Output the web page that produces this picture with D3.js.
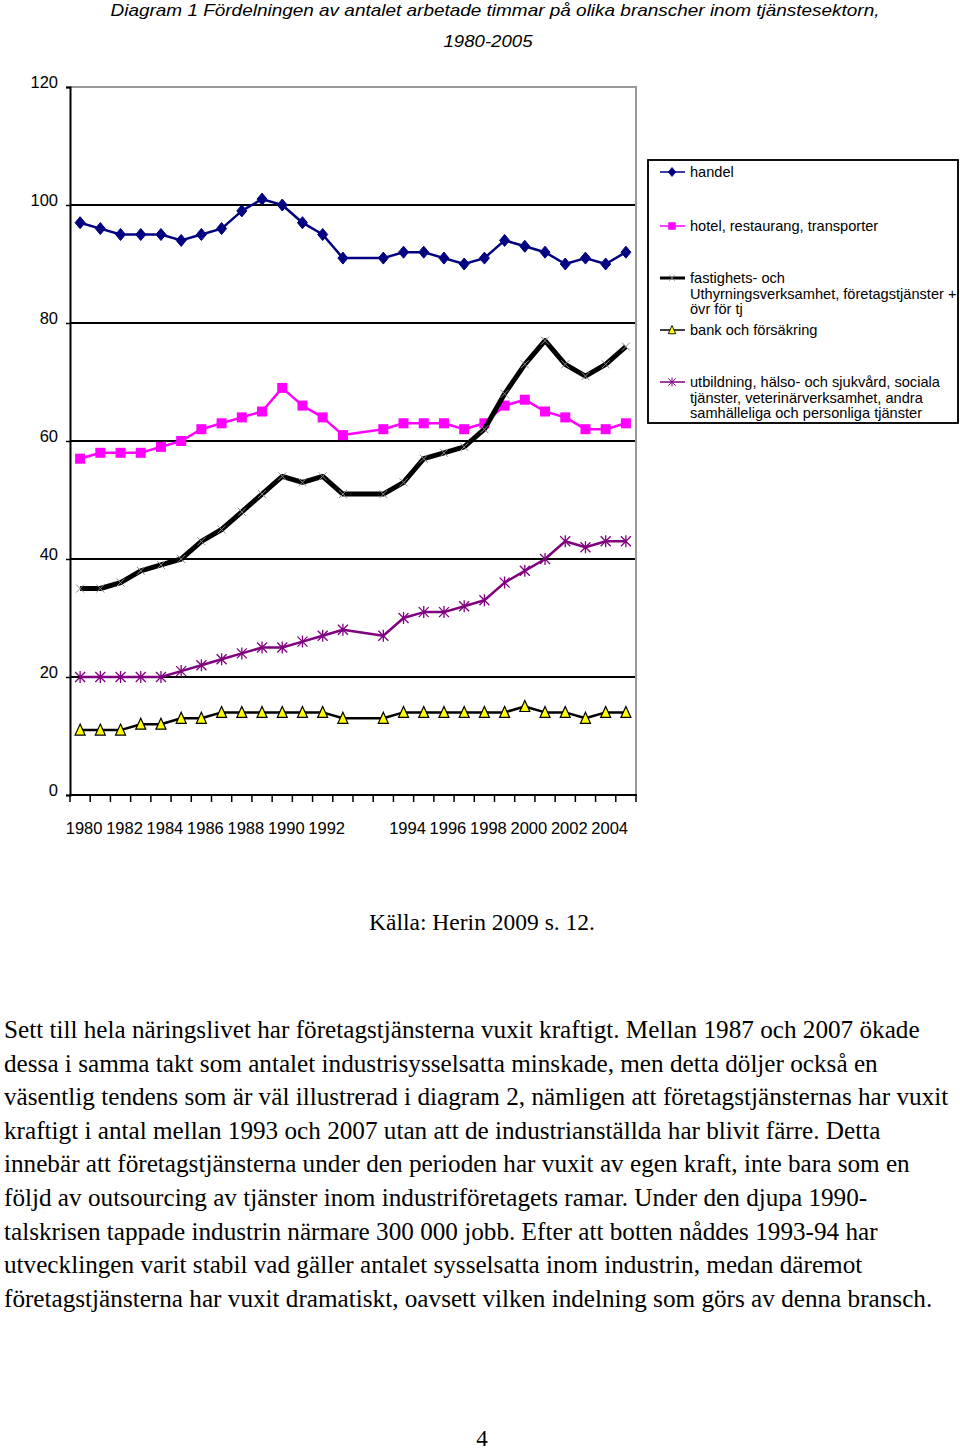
<!DOCTYPE html>
<html>
<head>
<meta charset="utf-8">
<script src="https://cdn.jsdelivr.net/npm/d3@7"></script>
<style>
  body { margin: 0; background: #fff; }
  svg { display: block; }
</style>
</head>
<body>
<svg id="page" width="960" height="1450"></svg>
<script>
// categories: old classification 1980-1993, empty slot, new classification 1993-2005
var categories = ['1980','1981','1982','1983','1984','1985','1986','1987','1988','1989','1990','1991','1992','1993',
                  '',
                  '1993','1994','1995','1996','1997','1998','1999','2000','2001','2002','2003','2004','2005'];
var tickLabels = ['1980','','1982','','1984','','1986','','1988','','1990','','1992','',
                  '',
                  '','1994','','1996','','1998','','2000','','2002','','2004',''];
var yTicks = [0, 20, 40, 60, 80, 100, 120];

var handel     = [97,96,95,95,95,94,95,96,99,101,100,97,95,91, null, 91,92,92,91,90,91,94,93,92,90,91,90,92];
var hotel      = [57,58,58,58,59,60,62,63,64,65,69,66,64,61, null, 62,63,63,63,62,63,66,67,65,64,62,62,63];
var fastighets = [35,35,36,38,39,40,43,45,48,51,54,53,54,51, null, 51,53,57,58,59,62,68,73,77,73,71,73,76];
var bank       = [11,11,11,12,12,13,13,14,14,14,14,14,14,13, null, 13,14,14,14,14,14,14,15,14,14,13,14,14];
var utbildning = [20,20,20,20,20,21,22,23,24,25,25,26,27,28, null, 27,30,31,31,32,33,36,38,40,43,42,43,43];

var seriesNames = [
  ['handel'],
  ['hotel, restaurang, transporter'],
  ['fastighets- och', 'Uthyrningsverksamhet, företagstjänster +', 'övr för tj'],
  ['bank och försäkring'],
  ['utbildning, hälso- och sjukvård, sociala', 'tjänster, veterinärverksamhet, andra', 'samhälleliga och personliga tjänster']
];

var titleLines = ['Diagram 1 Fördelningen av antalet arbetade timmar på olika branscher inom tjänstesektorn,', '1980-2005'];
var sourceText = 'Källa: Herin 2009 s. 12.';
var bodyLines = [
  'Sett till hela näringslivet har företagstjänsterna vuxit kraftigt. Mellan 1987 och 2007 ökade',
  'dessa i samma takt som antalet industrisysselsatta minskade, men detta döljer också en',
  'väsentlig tendens som är väl illustrerad i diagram 2, nämligen att företagstjänsternas har vuxit',
  'kraftigt i antal mellan 1993 och 2007 utan att de industrianställda har blivit färre. Detta',
  'innebär att företagstjänsterna under den perioden har vuxit av egen kraft, inte bara som en',
  'följd av outsourcing av tjänster inom industriföretagets ramar. Under den djupa 1990-',
  'talskrisen tappade industrin närmare 300 000 jobb. Efter att botten nåddes 1993-94 har',
  'utvecklingen varit stabil vad gäller antalet sysselsatta inom industrin, medan däremot',
  'företagstjänsterna har vuxit dramatiskt, oavsett vilken indelning som görs av denna bransch.'
];

var svg = d3.select('#page');
var sans = 'Arial, "Liberation Sans", sans-serif';
var serif = '"Times New Roman", "Liberation Serif", serif';

// title
svg.append('text')
  .attr('x', 495).attr('y', 16)
  .attr('text-anchor', 'middle')
  .attr('textLength', 769).attr('lengthAdjust', 'spacingAndGlyphs')
  .style('font-family', sans).style('font-style', 'italic').style('font-size', '17px')
  .text(titleLines[0]);
svg.append('text')
  .attr('x', 488).attr('y', 47)
  .attr('text-anchor', 'middle')
  .attr('textLength', 89).attr('lengthAdjust', 'spacingAndGlyphs')
  .style('font-family', sans).style('font-style', 'italic').style('font-size', '17px')
  .text(titleLines[1]);

// scales
var x = d3.scaleBand().domain(d3.range(categories.length)).range([70, 636]);
var y = d3.scaleLinear().domain([0, 120]).range([795, 87]);
function cx(i){ return x(i) + x.bandwidth()/2; }

var plot = svg.append('g');

// grid lines
plot.selectAll('.grid')
  .data(yTicks.filter(function(d){ return d > 0 && d < 120; }))
  .enter().append('line')
  .attr('x1', 70).attr('x2', 636)
  .attr('y1', function(d){ return y(d); }).attr('y2', function(d){ return y(d); })
  .style('stroke', '#000').style('stroke-width', 2);

// plot border top/right
plot.append('line').attr('x1', 70).attr('x2', 637).attr('y1', y(120)).attr('y2', y(120))
  .style('stroke', '#999').style('stroke-width', 2);
plot.append('line').attr('x1', 636).attr('x2', 636).attr('y1', y(120)).attr('y2', y(0))
  .style('stroke', '#999').style('stroke-width', 2);

// y axis
var yAxis = d3.axisLeft(y).tickValues(yTicks).tickSize(4).tickPadding(8);
var yg = svg.append('g').attr('transform', 'translate(70,0)').call(yAxis);
yg.select('.domain').style('stroke', '#000').style('stroke-width', 2);
yg.selectAll('.tick line').style('stroke', '#000').style('stroke-width', 1.5);
yg.selectAll('.tick text')
  .attr('dy', '0.05em')
  .style('font-family', sans).style('font-size', '16.5px').style('fill', '#000');

// x axis ticks at category boundaries
var xEdges = d3.range(categories.length + 1).map(function(i){ return 70 + i * x.step(); });
svg.append('line').attr('x1', 70).attr('x2', 637).attr('y1', y(0)).attr('y2', y(0))
  .style('stroke', '#000').style('stroke-width', 2);
svg.selectAll('.xtick').data(xEdges).enter().append('line')
  .attr('x1', function(d){ return d; }).attr('x2', function(d){ return d; })
  .attr('y1', y(0)).attr('y2', y(0) + 7)
  .style('stroke', '#000').style('stroke-width', 1.5);
svg.selectAll('.xlabel').data(tickLabels).enter().append('text')
  .attr('x', function(d, i){ return cx(i) + 4; })
  .attr('y', 834)
  .attr('text-anchor', 'middle')
  .style('font-family', sans).style('font-size', '16.5px')
  .text(function(d){ return d; });

// series
var series = [
  {values: handel,     color: '#000080', width: 2.5, marker: 'diamond'},
  {values: hotel,      color: '#ff00ff', width: 2.5, marker: 'square'},
  {values: fastighets, color: '#000000', width: 5,   marker: 'x'},
  {values: bank,       color: '#000000', width: 2.5, marker: 'triangle'},
  {values: utbildning, color: '#800080', width: 2.5, marker: 'star'}
];

function drawMarker(g, type, px, py){
  if(type === 'diamond'){
    g.append('path').attr('d', 'M'+px+','+(py-6)+' L'+(px+5)+','+py+' L'+px+','+(py+6)+' L'+(px-5)+','+py+' Z')
      .style('fill', '#000080').style('stroke', '#000080').style('stroke-width', 1);
  } else if(type === 'square'){
    g.append('rect').attr('x', px-5).attr('y', py-5).attr('width', 10).attr('height', 10)
      .style('fill', '#ff00ff');
  } else if(type === 'x'){
    g.append('path').attr('d', 'M'+(px-4)+','+(py-4)+' L'+(px+4)+','+(py+4)+' M'+(px+4)+','+(py-4)+' L'+(px-4)+','+(py+4))
      .style('stroke', '#888').style('stroke-width', 1).style('fill', 'none');
  } else if(type === 'triangle'){
    g.append('path').attr('d', 'M'+px+','+(py-6)+' L'+(px+5)+','+(py+5)+' L'+(px-5)+','+(py+5)+' Z')
      .style('fill', '#ffff00').style('stroke', '#000').style('stroke-width', 1.2);
  } else if(type === 'star'){
    g.append('path').attr('d', 'M'+(px-5)+','+(py-5)+' L'+(px+5)+','+(py+5)+' M'+(px+5)+','+(py-5)+' L'+(px-5)+','+(py+5)+' M'+px+','+(py-6)+' L'+px+','+(py+6))
      .style('stroke', '#800080').style('stroke-width', 1.3).style('fill', 'none');
  }
}

var line = d3.line()
  .x(function(d){ return cx(d.i); })
  .y(function(d){ return y(d.v); });

series.forEach(function(s){
  var pts = [];
  s.values.forEach(function(v, i){ if(v !== null) pts.push({i: i, v: v}); });
  var g = plot.append('g');
  g.append('path').datum(pts).attr('d', line)
    .style('fill', 'none').style('stroke', s.color).style('stroke-width', s.width)
    .style('stroke-linejoin', 'round');
  pts.forEach(function(p){ drawMarker(g, s.marker, cx(p.i), y(p.v)); });
});

// legend
svg.append('clipPath').attr('id', 'legclip')
  .append('rect').attr('x', 648).attr('y', 160).attr('width', 310).attr('height', 263);
var lg = svg.append('g');
lg.append('rect').attr('x', 648).attr('y', 160).attr('width', 310).attr('height', 263)
  .style('fill', '#fff').style('stroke', '#000').style('stroke-width', 1.5);
var legendY = [172, 226, 278, 330, 382];
var lt = lg.append('g').attr('clip-path', 'url(#legclip)');
series.forEach(function(s, k){
  var ly = legendY[k];
  var w = s.marker === 'x' ? 3 : 1.5;
  lg.append('line').attr('x1', 660).attr('x2', 685).attr('y1', ly).attr('y2', ly)
    .style('stroke', s.color).style('stroke-width', w);
  var mg = lg.append('g').attr('transform', 'translate(672,' + ly + ') scale(0.75) translate(-672,' + (-ly) + ')');
  drawMarker(mg, s.marker, 672, ly);
  seriesNames[k].forEach(function(t, j){
    lt.append('text').attr('x', 690).attr('y', ly + 5 + j * 15.5)
      .style('font-family', sans).style('font-size', '14.6px')
      .text(t);
  });
});
lg.append('rect').attr('x', 648).attr('y', 160).attr('width', 310).attr('height', 263)
  .style('fill', 'none').style('stroke', '#000').style('stroke-width', 1.5);

// source and body text
svg.append('text').attr('x', 482).attr('y', 930).attr('text-anchor', 'middle')
  .style('font-family', serif).style('font-size', '23.5px').text(sourceText);

svg.selectAll('.body').data(bodyLines).enter().append('text')
  .attr('x', 4).attr('y', function(d, i){ return 1038 + i * 33.6; })
  .style('font-family', serif).style('font-size', '25.2px')
  .text(function(d){ return d; });

svg.append('text').attr('x', 482).attr('y', 1446).attr('text-anchor', 'middle')
  .style('font-family', serif).style('font-size', '23px').text('4');
</script>
</body>
</html>
